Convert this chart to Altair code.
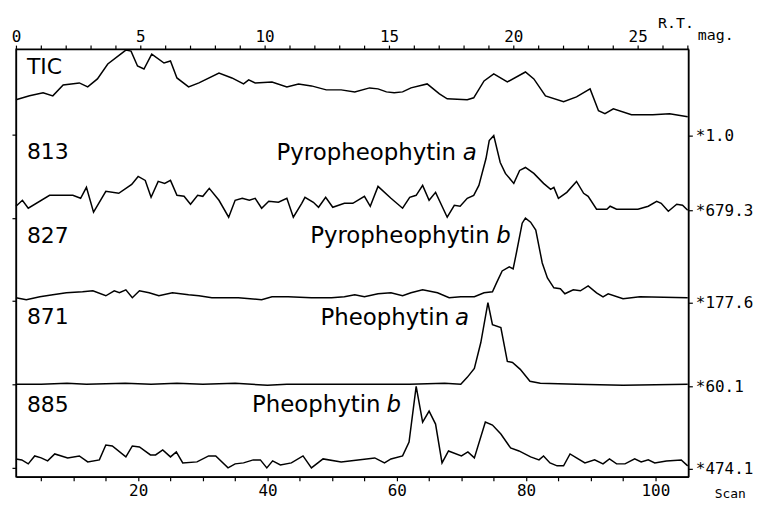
import altair as alt
import pandas as pd

# ---------------- data ----------------
trace_names = ["TIC", "813", "827", "871", "885"]
baselines = [343, 268, 175, 91, 8]          # vertical offset of each trace (plot units)
scale_labels = ["*1.0", "*679.3", "*177.6", "*60.1", "*474.1"]
left_ticks = [344, 260, 177, 93, 9]

scan_ticks = list(range(5, 105, 5))
rt_ticks = list(range(0, 28))

tic_scan = [1.1, 3.2, 5.3, 6.8, 8.4, 10.9, 12.2, 13.7, 15.3, 18.1, 18.9, 19.9, 20.9, 22.1, 24, 25, 26,
            27.8, 29.4, 32.5, 34.5, 36.3, 37.1, 38.1, 40.7, 43, 44.8, 46.8, 49.1, 51.4, 53.5, 55.8,
            57.1, 58.4, 59.6, 60.9, 62.2, 64.7, 66.6, 67.8, 70.9, 71.9, 73.5, 75, 77.1, 79.9, 81.2,
            83, 85.8, 87.8, 89.9, 91.2, 92.2, 93.5, 96.3, 99.6, 102.2, 105]
tic_int = [36, 40, 43, 40, 51, 53, 49, 57, 72, 86, 85, 70, 67, 82, 73, 75, 58,
           49, 53, 63, 58, 52, 56, 53, 54, 49, 52, 50, 46, 46, 44, 48,
           47, 44, 43, 44, 48, 52, 42, 37, 36, 38, 55, 62, 54, 64, 57,
           40, 34, 39, 47, 25, 22, 27, 21, 21, 22, 19]

m813_scan = [1.1, 2.1, 3, 6.3, 9.9, 11.1, 12, 13.1, 15, 17, 19, 20, 21.1, 22, 23.1, 24.1, 25, 26,
             27.1, 28.1, 29.2, 30, 31, 32.5, 34, 35, 36.1, 37.2, 38.1, 39.1, 40.2, 41.7, 43, 44,
             45.3, 45.8, 47.1, 47.9, 49, 50.1, 51.9, 53.2, 55, 55.9, 57.1, 59.1, 60.9, 62, 63, 64,
             65, 66, 67.8, 68.9, 69.8, 70.9, 71.9, 72.7, 73.8, 74.3, 75, 76, 76.8, 78.1, 79, 79.9,
             81.2, 82.7, 83.8, 84.3, 85, 86.3, 87.8, 88.9, 89.6, 90.9, 92.5, 93, 94, 96, 97.3,
             98.9, 100.2, 100.9, 102, 103.3, 104.2, 105]
m813_int = [4, 10, 2, 15, 15, 12, 23, -2, 19, 17, 26, 34, 30, 13, 29, 27, 30, 15,
            14, 6, 15, 14, 22, 10, -7, 10, 12, 10, 12, 2, 9, 8, 12, -7,
            7, 13, 8, 3, 13, 3, 7, 7, 14, 4, 24, 12, 2, 13, 15, 25,
            10, 18, -7, 5, 4, 12, 15, 25, 52, 70, 75, 48, 37, 27, 40, 43,
            37, 27, 21, 23, 12, 18, 29, 17, 14, 1, 1, 4, 1, 1, 1,
            4, 9, 7, -1, 6, 5, 0]

m827_scan = [1.1, 2.7, 4.8, 6.8, 8.9, 11.4, 13, 15, 16.3, 17.1, 18.1, 19.1, 20.2, 21.7, 23.2, 25.3,
             27.8, 29.4, 31.4, 35.5, 39.1, 40.7, 43.2, 46.8, 49.9, 51.9, 53.5, 55, 57.1, 59.1, 60.9,
             62.2, 64, 66.3, 68.1, 69.9, 72, 73.5, 74.8, 75.5, 76.3, 77.4, 78, 78.5, 79.4, 79.9,
             80.7, 81.5, 82.5, 83.3, 84.3, 85.3, 86, 87.3, 88.4, 89.6, 90.9, 91.9, 92.7, 95, 97.6,
             105]
m827_int = [5, 3, 6, 8, 10, 11, 12, 7, 12, 10, 13, 5, 12, 10, 7, 10,
            8, 7, 5, 5, 3, 6, 6, 5, 5, 6, 8, 6, 9, 10, 7,
            10, 13, 10, 5, 6, 6, 10, 11, 21, 32, 36, 34, 50, 80, 85,
            81, 73, 40, 25, 15, 14, 9, 13, 12, 17, 10, 6, 9, 4, 6,
            5]

m871_scan = [1.1, 5, 9, 12, 18, 22, 26, 30, 35, 40, 43, 47, 52, 57, 62, 67.4, 69.9, 70.9, 72, 73,
             74.1, 74.8, 76.1, 77.1, 77.9, 79.1, 80.6, 82.2, 87.8, 95, 105]
m871_int = [2, 2, 3, 2, 3, 2, 3, 2, 3, 1, 2, 2, 2, 2, 2, 3, 2, 9, 18, 44,
            84, 62, 59, 25, 24, 17, 5, 3, 2, 1, 2]

m885_scan = [1.1, 2, 3, 4, 5, 6, 7.1, 9.1, 10.9, 12.2, 14, 15, 16, 18.1, 19.1, 20.2, 21.9, 22.7,
             23.8, 25, 25.9, 26.9, 29.1, 30.9, 32, 33.9, 35, 36.3, 37.8, 38.9, 39.9, 40.8, 42,
             43.7, 45.5, 46.8, 48.6, 51.4, 54, 56.6, 58.1, 59.1, 60.9, 61.9, 63, 64, 65, 66, 67,
             68, 70, 71, 72, 73.7, 74.8, 76.1, 77.6, 78.9, 80.7, 82, 82.7, 83.7, 84.8, 85.8, 86.8,
             87.8, 89.1, 90.6, 91.9, 92.9, 94, 95.3, 96.8, 97.8, 98.9, 99.9, 101.7, 104, 105]
m885_int = [10, 9, 5, 13, 11, 8, 15, 11, 13, 7, 9, 24, 23, 12, 23, 22, 14, 14,
            19, 12, 17, 6, 7, 13, 13, 1, 5, 6, 9, 9, 1, 8, 4,
            6, 13, 1, 10, 7, 9, 11, 6, 10, 13, 27, 83, 47, 58, 45, 6,
            18, 13, 17, 11, 47, 44, 35, 21, 18, 12, 9, 13, 6, 3, 3, 15,
            11, 6, 9, 5, 10, 5, 5, 10, 7, 9, 6, 8, 9, 3]

trace_scans = [tic_scan, m813_scan, m827_scan, m871_scan, m885_scan]
trace_ints = [tic_int, m813_int, m827_int, m871_int, m885_int]

# annotations
id_text = ["TIC", "813", "827", "871", "885"]
id_scan = [2.8, 2.8, 2.8, 2.8, 2.8]
id_y = [412, 327, 242, 161, 72]
cmp_text = ["Pyropheophytin", "Pyropheophytin", "Pheophytin", "Pheophytin"]
cmp_scan = [41.4, 46.6, 48.2, 37.6]
cmp_y = [326, 242, 160, 72]
ital_text = ["a", "b", "a", "b"]
ital_scan = [70.2, 75.4, 69.0, 58.4]
ital_y = [326, 242, 160, 72]

# ---------------- build tables ----------------
rows = []
for name, base, sc, it in zip(trace_names, baselines, trace_scans, trace_ints):
    for s, v in zip(sc, it):
        rows.append({"trace": name, "scan": s, "y": base + v})
df = pd.DataFrame(rows)
df_ids = pd.DataFrame({"t": id_text, "scan": id_scan, "y": id_y})
df_cmp = pd.DataFrame({"t": cmp_text, "scan": cmp_scan, "y": cmp_y})
df_ital = pd.DataFrame({"t": ital_text, "scan": ital_scan, "y": ital_y})
df_axis = pd.DataFrame({"yb": baselines, "rt": [rt_ticks[0]] * len(baselines)})

XDOM = [1.1, 105.1]
YDOM = [0, 430]
RTDOM = [0, 27.04]
MONO = "DejaVu Sans Mono"
SANS = "DejaVu Sans"

right_expr = " : ".join(
    f"datum.value == {b} ? '{l}'" for b, l in zip(baselines, scale_labels)) + " : ''"
bottom_expr = "datum.value % 20 == 0 ? datum.label : ''"


def xs():
    return alt.Scale(domain=XDOM, nice=False, zero=False)


def ys():
    return alt.Scale(domain=YDOM, nice=False, zero=False)


lines = alt.Chart(df).mark_line(color="black", strokeWidth=1.5).encode(
    x=alt.X("scan:Q", scale=xs(),
            axis=alt.Axis(orient="bottom", values=scan_ticks,
                          labelExpr=bottom_expr,
                          labelOverlap=False, labelFlush=False, labelPadding=2,
                          title="Scan", titleX=702, titleY=11, titleAlign="left",
                          titleBaseline="top", titleFont=MONO, titleFontSize=13,
                          titleFontWeight="normal")),
    y=alt.Y("y:Q", scale=ys(),
            axis=alt.Axis(orient="left", values=left_ticks, labels=False, title=None)),
    detail="trace:N",
)

axis_layer = alt.Chart(df_axis).mark_point(opacity=0).encode(
    x=alt.X("rt:Q", scale=alt.Scale(domain=RTDOM, nice=False, zero=False),
            axis=alt.Axis(orient="top", values=rt_ticks,
                          labelExpr="datum.value % 5 == 0 ? datum.label : ''",
                          labelOverlap=False, labelFlush=False,
                          title="R.T.", titleX=645, titleY=-27, titleAlign="left",
                          titleBaseline="middle", titleFont=MONO, titleFontSize=15,
                          titleFontWeight="normal", labelPadding=1)),
    y=alt.Y("yb:Q", scale=ys(),
            axis=alt.Axis(orient="right", values=baselines, labelExpr=right_expr,
                          labelOverlap=False, labelFlush=False,
                          title="mag.", titleAngle=0, titleX=9, titleY=-15,
                          titleAlign="left", titleBaseline="middle", titleFont=MONO,
                          titleFontSize=15, titleFontWeight="normal", labelPadding=3)),
)


def text_layer(data, size, style="normal"):
    return alt.Chart(data).mark_text(
        font=SANS, fontSize=size, fontStyle=style, align="left", baseline="middle",
        color="black"
    ).encode(x=alt.X("scan:Q", scale=xs(), axis=None),
             y=alt.Y("y:Q", scale=ys(), axis=None), text="t:N")


ids = text_layer(df_ids, 22)
cmps = text_layer(df_cmp, 23)
itals = text_layer(df_ital, 23, "italic")

chart = alt.layer(lines, axis_layer, ids, cmps, itals).resolve_scale(
    x="independent", y="independent"
).properties(
    width=676, height=430,
    autosize=alt.AutoSizeParams(type="none"),
    padding={"left": 8, "top": 40, "right": 68, "bottom": 22},
    background="white",
).configure_view(
    stroke="black", strokeWidth=1.4
).configure_axis(
    grid=False, domainColor="black", domainWidth=1.4, tickColor="black", tickWidth=1.2,
    tickSize=4, labelFont=MONO, labelFontSize=16, labelColor="black", titleColor="black",
    labelPadding=3,
)

chart.save("out.html", embed_options={"renderer": "svg", "actions": False})
